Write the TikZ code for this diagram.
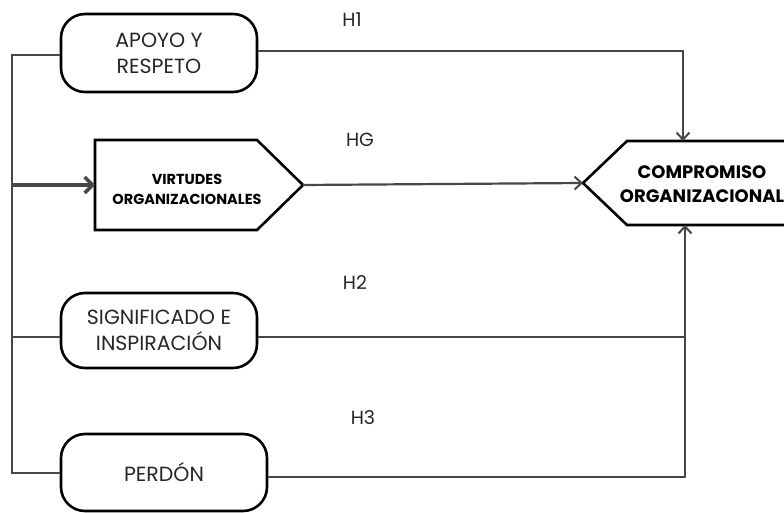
\documentclass[tikz,border=0pt]{standalone}
\usepackage{fontspec}
\setmainfont{Poppins}
\usetikzlibrary{arrows.meta}
\definecolor{conncol}{HTML}{4A4643}
\tikzset{
  rbox/.style={draw=black, line width=2.6pt, rounded corners=24pt, align=center, inner sep=0pt, font=\fontsize{20.5}{26}\selectfont, text=black!85},
  pent/.style={draw=black, line width=2.6pt, fill=white, line join=miter},
  conn/.style={draw=conncol, line width=2.2pt},
  tip/.style={-{Straight Barb[length=7pt, width=13pt, line width=2pt]}},
  hlabel/.style={font=\fontsize{19}{21}\selectfont, text=black!85},
  boldtext/.style={align=center}
}
\begin{document}
\begin{tikzpicture}[x=1pt,y=-1pt]
\useasboundingbox (0,0) rectangle (784,513);
% boxes
\node[rbox, minimum width=196pt, minimum height=78pt] (apoyo) at (159,53) {APOYO Y\\RESPETO};
\node[rbox, minimum width=196pt, minimum height=75pt] (sig) at (159,330.5) {SIGNIFICADO E\\INSPIRACIÓN};
\node[rbox, minimum width=206pt, minimum height=77pt] (perdon) at (164,472.5) {PERDÓN};
% virtudes pentagon
\draw[pent] (95,140) -- (257,140) -- (303,185) -- (257,230) -- (95,230) -- cycle;
\coordinate (virtL) at (95,185);
\coordinate (virtR) at (303,185);
\node[boldtext, font=\bfseries\fontsize{14.5}{20}\selectfont] (virt) at (187,189) {VIRTUDES\\ORGANIZACIONALES};
% compromiso pentagon
\draw[pent] (820,141) -- (627,141) -- (583,183) -- (627,225) -- (820,225);
\coordinate (compL) at (583,183);
\coordinate (compT) at (683,141);
\coordinate (compB) at (685,225);
\node[boldtext, font=\bfseries\fontsize{18}{24}\selectfont] (comp) at (702,184) {COMPROMISO\\ORGANIZACIONAL};
% trunk
\coordinate (tA) at (12,55);
\coordinate (tV) at (12,185);
\coordinate (tS) at (12,337);
\coordinate (tP) at (12,473);
\draw[conn] (apoyo.west |- tA) -- (tA) -- (tP) -- (perdon.west |- tP);
\draw[conn] (tS) -- (sig.west |- tS);
\draw[draw=conncol, line width=4pt, -{Straight Barb[length=8pt, width=16pt, line width=3.5pt]}] (tV) -- (virtL);
% hypotheses
\coordinate (h1c) at (683,51);
\draw[conn, tip] (apoyo.east |- h1c) -- (h1c) -- (compT);
\draw[conn, tip] (virtR) -- (compL);
\coordinate (h2c) at (685,337);
\draw[conn] (sig.east |- h2c) -- (h2c);
\coordinate (h3c) at (685,477);
\draw[conn, tip] (perdon.east |- h3c) -- (h3c) -- (compB);
% labels
\node[hlabel] (h1) at (352,20) {H1};
\node[hlabel] (hg) at (360,140) {HG};
\node[hlabel] (h2) at (355,283) {H2};
\node[hlabel] (h3) at (363,418) {H3};
\end{tikzpicture}
\end{document}
